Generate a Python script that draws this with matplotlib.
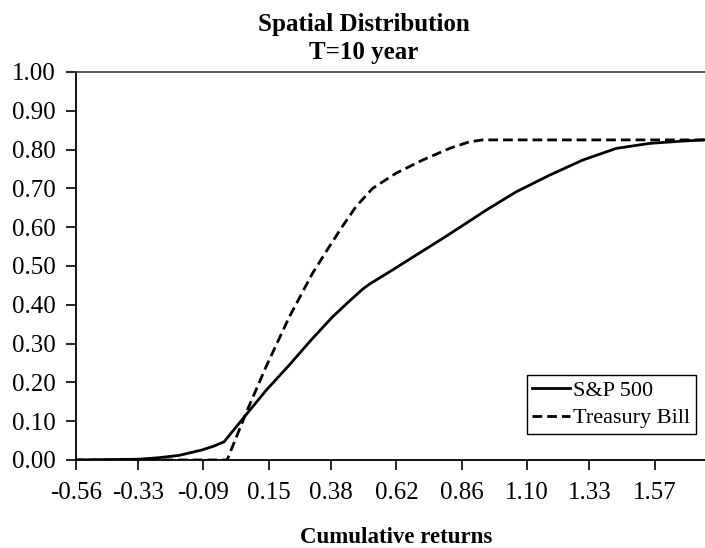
import matplotlib
matplotlib.use("Agg")
import matplotlib.pyplot as plt

plt.rcParams['font.family'] = ['Liberation Serif', 'DejaVu Serif']

# cumulative probability curves, returns on x
sp_x = [-0.563, -0.327, -0.253, -0.179, -0.095, -0.051, -0.014, 0.066, 0.141,
        0.226, 0.307, 0.385, 0.446, 0.495, 0.520, 0.606, 0.692, 0.790, 0.876,
        0.950, 1.060, 1.183, 1.305, 1.428, 1.551, 1.673, 1.753]
sp_y = [0.000, 0.002, 0.006, 0.012, 0.026, 0.036, 0.047, 0.116, 0.180,
        0.245, 0.310, 0.369, 0.409, 0.440, 0.453, 0.490, 0.528, 0.571, 0.610,
        0.644, 0.691, 0.734, 0.773, 0.803, 0.816, 0.822, 0.825]

tb_x = [-0.563, -0.003, 0.066, 0.140, 0.226, 0.311, 0.373, 0.422, 0.471,
        0.532, 0.618, 0.716, 0.815, 0.888, 0.937, 1.753]
tb_y = [0.000, 0.000, 0.120, 0.240, 0.369, 0.481, 0.550, 0.603, 0.653,
        0.700, 0.739, 0.773, 0.803, 0.820, 0.825, 0.825]

x_ticks = [-0.56, -0.33, -0.09, 0.15, 0.38, 0.62, 0.86, 1.10, 1.33, 1.57]
y_ticks = [0.0, 0.1, 0.2, 0.3, 0.4, 0.5, 0.6, 0.7, 0.8, 0.9, 1.0]

fig = plt.figure(figsize=(7.05, 5.48), dpi=100)
ax = fig.add_axes([75.7 / 705, 88 / 548, 629.3 / 705, 388 / 548])

ax.plot(sp_x, sp_y, color='black', lw=2.0, label='S&P 500')
ax.plot(tb_x, tb_y, color='black', lw=2.0, dashes=(3.5, 1.8), label='Treasury Bill')

ax.set_xlim(-0.56, 1.755)
ax.set_ylim(0, 1.0)
ax.set_xticks(x_ticks)
ax.set_xticklabels(['%.2f' % v for v in x_ticks])
ax.set_yticks(y_ticks)
ax.set_yticklabels(['%.2f' % v for v in y_ticks])
ax.tick_params(axis='both', direction='out', length=7.5, width=1.2, labelsize=18, color='black')
ax.tick_params(axis='y', pad=7)
ax.tick_params(axis='x', pad=8)

ax.spines['right'].set_visible(False)
ax.spines['left'].set_linewidth(1.3)
ax.spines['bottom'].set_linewidth(1.3)
ax.spines['top'].set_linewidth(1.2)
ax.spines['top'].set_color('#404040')

# two-line title and axis label
fig.text(364 / 705, 1 - 31.5 / 548, 'Spatial Distribution', ha='center', va='baseline',
         fontsize=18, fontweight='bold')
fig.text(364 / 705, 1 - 59 / 548, 'T=10 year', ha='center', va='baseline',
         fontsize=18, fontweight='bold')
fig.text(396 / 705, 1 - 543 / 548, 'Cumulative returns', ha='center', va='baseline',
         fontsize=16.5, fontweight='bold')

leg = ax.legend(loc='lower right', bbox_to_anchor=(696 / 705, (548 - 434) / 548),
                bbox_transform=fig.transFigure, borderaxespad=0, fontsize=16,
                frameon=True, fancybox=False, edgecolor='black', framealpha=1,
                handlelength=1.7, handletextpad=0.15, labelspacing=0.3,
                borderpad=0.25)
leg.get_frame().set_linewidth(1.0)

fig.savefig('out.png', dpi=100)
